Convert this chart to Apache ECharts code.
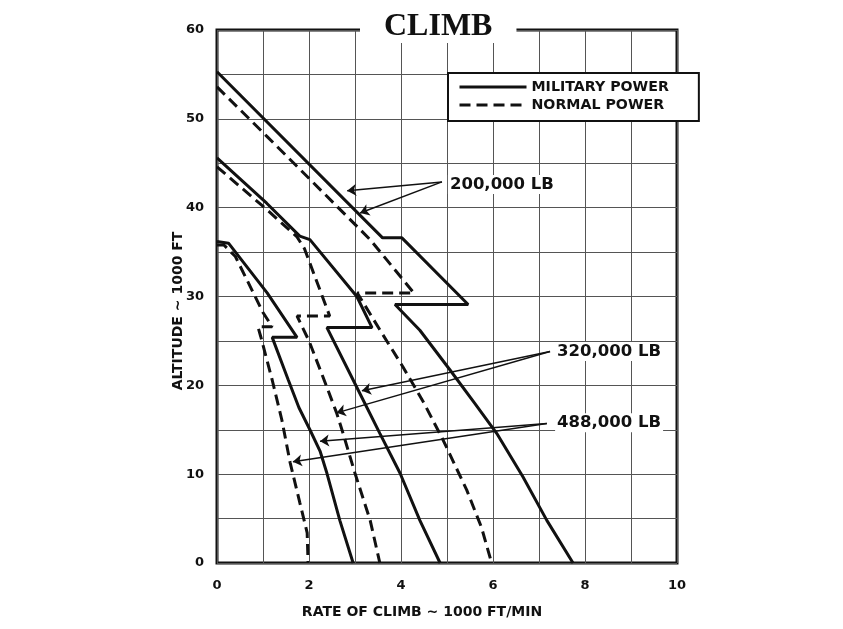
<!DOCTYPE html>
<html>
<head>
<meta charset="utf-8">
<script src="https://cdn.jsdelivr.net/npm/echarts@6/dist/echarts.min.js"></script>
<style>html,body{margin:0;padding:0;background:#fff}#c{width:843px;height:629px}</style>
</head>
<body>
<div id="c"></div>
<script>
// ---- data (x: rate of climb, 1000 ft/min ; y: altitude, 1000 ft) ----
const xTicks = [0, 2, 4, 6, 8, 10];
const yTicks = [0, 10, 20, 30, 40, 50, 60];
const legendNames = ['MILITARY POWER', 'NORMAL POWER'];

const mil200 = [[0,55.3],[3.6,36.6],[4.02,36.6],[5.46,29.1],[3.87,29.1],[4.41,26.2],[5.07,21.7],[5.6,18.0],[6.08,14.6],[6.65,9.7],[7.17,4.8],[7.74,0]];
const nor200 = [[0,53.6],[1.09,48.0],[2.83,39.0],[3.33,36.4],[4.28,30.4],[3.05,30.4],[3.57,26.0],[4.04,22.1],[4.5,18.0],[4.91,13.9],[5.43,8.2],[5.75,4.0],[5.97,0]];
const mil320 = [[0,45.6],[1.08,40.5],[1.8,36.8],[2.02,36.4],[3.04,30.0],[3.37,26.5],[2.39,26.5],[2.96,20.6],[3.54,14.6],[3.98,10.1],[4.41,4.8],[4.85,0]];
const nor320 = [[0,44.6],[1.08,39.8],[1.74,36.7],[1.9,35.4],[2.45,27.8],[1.74,27.8],[2.0,25.0],[2.3,21.0],[2.6,16.9],[2.74,14.6],[3.0,10.1],[3.33,4.8],[3.54,0]];
const mil488 = [[0,36.2],[0.25,36.0],[1.09,30.4],[1.74,25.4],[1.2,25.4],[1.55,20.6],[1.78,17.5],[2.02,15.0],[2.24,12.6],[2.39,10.1],[2.67,4.8],[2.96,0]];
const nor488 = [[0,35.8],[0.15,35.8],[0.4,34.5],[1.0,28.2],[1.2,26.6],[0.89,26.6],[0.95,25.5],[1.2,20.6],[1.41,16.1],[1.59,11.3],[1.8,6.8],[1.96,3.4],[1.98,0]];

const weightLabels = ['200,000 LB', '320,000 LB', '488,000 LB'];
const labelAnchors = [[5.02,42.6],[7.35,23.8],[7.35,15.8]];
const arrowTails = [[4.89,42.9],[7.24,23.8],[7.17,15.7]];
const arrowTips = [[[2.83,41.9],[3.11,39.4]], [[3.15,19.4],[2.6,16.9]], [[2.24,13.7],[1.65,11.4]]];

// ---- build ----
const INK = '#111';
const SANS = '"DejaVu Sans", sans-serif';
const dashed = [11, 6];
function curve(name, data, type) {
  return {
    type: 'line', name: name, data: data, symbol: 'none', color: INK,
    lineStyle: { color: INK, width: 3, type: type },
    emphasis: { disabled: true }, silent: true, z: 3
  };
}
const arrowData = [];
arrowTips.forEach((tips, i) => tips.forEach(t => arrowData.push([{ coord: arrowTails[i] }, { coord: t }])));

const option = {
  animation: false,
  backgroundColor: '#fff',
  title: {
    text: 'CLIMB', left: 360, top: 11, backgroundColor: '#fff', padding: [0, 24, 0, 24],
    textStyle: { fontFamily: '"Liberation Serif", serif', fontWeight: 'bold', fontSize: 32, color: INK, lineHeight: 32 }
  },
  legend: {
    data: legendNames, left: 448, top: 73, orient: 'vertical',
    itemWidth: 67, itemHeight: 14, itemGap: 4, padding: [7, 30, 9, 10],
    borderColor: INK, borderWidth: 2, backgroundColor: '#fff', selectedMode: false,
    itemStyle: { color: 'rgba(0,0,0,0)', borderWidth: 0, opacity: 0 },
    lineStyle: { width: 3, color: INK },
    textStyle: { fontFamily: SANS, fontWeight: 'bold', fontSize: 14.2, color: INK }
  },
  grid: { left: 217, right: 166, top: 30, bottom: 66, show: true, borderColor: INK, borderWidth: 3, backgroundColor: 'transparent' },
  xAxis: {
    type: 'value', min: xTicks[0], max: xTicks[xTicks.length - 1], interval: 2,
    axisLine: { show: false }, axisTick: { show: false },
    axisLabel: { margin: 16, fontFamily: SANS, fontWeight: 'bold', fontSize: 13, color: INK },
    splitLine: { show: true, lineStyle: { color: '#555', width: 1 } },
    minorTick: { show: false, splitNumber: 2 },
    minorSplitLine: { show: true, lineStyle: { color: '#555', width: 1 } }
  },
  yAxis: {
    type: 'value', min: yTicks[0], max: yTicks[yTicks.length - 1], interval: 10,
    axisLine: { show: false }, axisTick: { show: false },
    axisLabel: { margin: 13, fontFamily: SANS, fontWeight: 'bold', fontSize: 13, color: INK },
    splitLine: { show: true, lineStyle: { color: '#555', width: 1 } },
    minorTick: { show: false, splitNumber: 2 },
    minorSplitLine: { show: true, lineStyle: { color: '#555', width: 1 } }
  },
  graphic: [
    { type: 'text', x: 422, y: 612, z: 10,
      style: { text: 'RATE OF CLIMB ~ 1000 FT/MIN', align: 'center', verticalAlign: 'middle', font: 'bold 14px ' + SANS, fill: INK } },
    { type: 'text', x: 178, y: 311, rotation: Math.PI / 2, z: 10,
      style: { text: 'ALTITUDE ~ 1000 FT', align: 'center', verticalAlign: 'middle', font: 'bold 14px ' + SANS, fill: INK } }
  ],
  series: [
    curve(legendNames[0], mil200, 'solid'),
    curve(legendNames[1], nor200, dashed),
    curve(legendNames[0], mil320, 'solid'),
    curve(legendNames[1], nor320, dashed),
    curve(legendNames[0], mil488, 'solid'),
    curve(legendNames[1], nor488, dashed),
    {
      type: 'scatter', name: 'labels', silent: true, z: 6, symbolSize: 0,
      itemStyle: { opacity: 1, color: INK },
      data: labelAnchors.map((p, i) => [p[0], p[1], weightLabels[i]]),
      label: { show: true, position: 'right', distance: 0, formatter: p => p.value[2],
        fontFamily: SANS, fontWeight: 'bold', fontSize: 16.5, color: INK, opacity: 1,
        backgroundColor: '#fff', padding: [1, 2] },
      markLine: {
        silent: true, symbol: ['none', 'arrow'], symbolSize: 9, animation: false,
        label: { show: false }, emphasis: { disabled: true },
        lineStyle: { color: INK, width: 1.5, type: 'solid', opacity: 1 },
        data: arrowData
      }
    }
  ]
};
const chart = echarts.init(document.getElementById('c'));
chart.setOption(option);
</script>
</body>
</html>
